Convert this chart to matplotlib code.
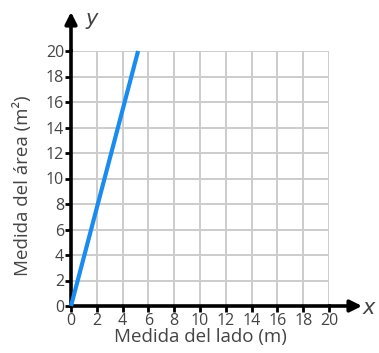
import matplotlib
matplotlib.use("Agg")
import matplotlib.pyplot as plt

# Data: side length (m) vs. area measure (m²)
lado = [0, 5.2]
area = [0, 20]
ticks = list(range(0, 21, 2))

plt.rcParams['font.family'] = ['Open Sans', 'DejaVu Sans']

fig = plt.figure(figsize=(3.79, 3.53), dpi=100)
ax = fig.add_axes([71/379, 1 - 306/353, (329 - 71)/379, (306 - 51)/353])

ax.set_xlim(0, 20)
ax.set_ylim(0, 20)
ax.set_xticks(ticks)
ax.set_yticks(ticks)
ax.grid(True, color='#cccccc', linewidth=1.4)
ax.set_axisbelow(True)

for s in ['top', 'right']:
    ax.spines[s].set_visible(False)
for s in ['left', 'bottom']:
    ax.spines[s].set_linewidth(2.6)
    ax.spines[s].set_color('black')

ax.tick_params(axis='both', direction='out', length=4, width=2, color='black',
               labelsize=11.5, labelcolor='#444444', pad=1)

ax.plot(lado, area, color='#1a8cf0', linewidth=3, solid_capstyle='butt', zorder=3, clip_on=False)

# Axis arrows
ax.annotate('', xy=(362/379, 1 - 306/353), xycoords='figure fraction',
            xytext=(329/379, 1 - 306/353), textcoords='figure fraction',
            arrowprops=dict(arrowstyle='-|>,head_length=0.7,head_width=0.35', color='black', lw=2.6,
                            shrinkA=0, shrinkB=0))
ax.annotate('', xy=(71/379, 1 - 12/353), xycoords='figure fraction',
            xytext=(71/379, 1 - 51/353), textcoords='figure fraction',
            arrowprops=dict(arrowstyle='-|>,head_length=0.7,head_width=0.35', color='black', lw=2.6,
                            shrinkA=0, shrinkB=0))

fig.text(369/379, 1 - 308/353, 'x', fontsize=15, style='italic', color='#444444',
         ha='center', va='center', family='DejaVu Sans')
fig.text(92/379, 1 - 19/353, 'y', fontsize=15, style='italic', color='#444444',
         ha='center', va='center', family='DejaVu Sans')

ax.set_xlabel('Medida del lado (m)', fontsize=13.5, color='#444444', labelpad=-1)
ax.set_ylabel('Medida del área (m²)', fontsize=13.5, color='#444444', labelpad=3)
ax.yaxis.set_label_coords(-0.15, 0.47)

fig.savefig('out.png', dpi=100)
